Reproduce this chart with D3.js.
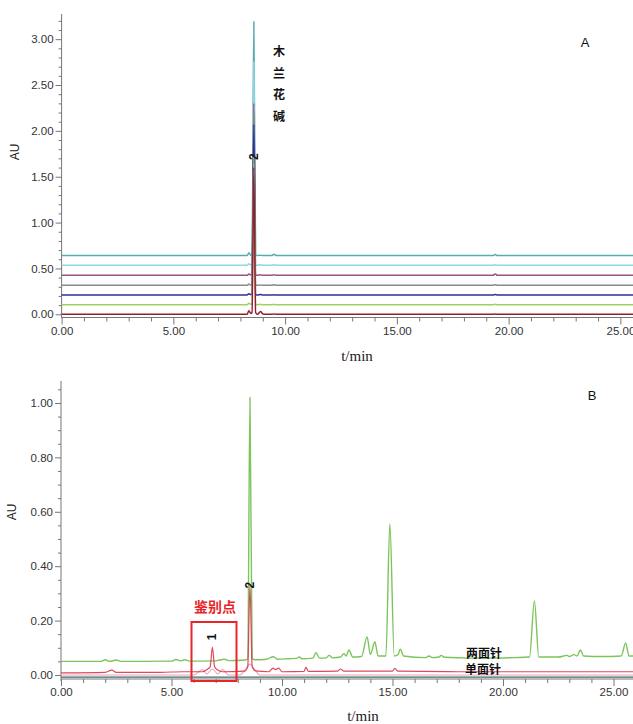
<!DOCTYPE html>
<html><head><meta charset="utf-8">
<script src="https://cdn.jsdelivr.net/npm/d3@7"></script>
<style>
html,body{margin:0;padding:0;background:#fff;}
svg{display:block;}
</style></head>
<body>
<svg id="c" width="633" height="724"></svg>
<script>
// ---------- DATA ----------
// Panel A: shared retention-time grid (min) and absorbance of each of 7 traces
const timesA = [0, 8.3, 8.38, 8.46, 8.52, 8.6, 8.68, 8.76, 8.9, 9.0, 9.1, 9.4, 9.5, 9.6, 19.3, 19.4, 19.5, 25.6];
const seriesA = [
  {name: "s1", color: "#58acae", values: [0.64,0.64,0.67,0.645,0.65,3.19,0.65,0.64,0.645,0.64,0.64,0.64,0.655,0.64,0.64,0.652,0.64,0.64]},
  {name: "s2", color: "#8fd6e6", values: [0.535,0.535,0.55,0.54,0.54,2.75,0.54,0.535,0.54,0.535,0.535,0.535,0.54,0.535,0.535,0.54,0.535,0.535]},
  {name: "s3", color: "#98557f", values: [0.425,0.425,0.44,0.43,0.43,2.3,0.43,0.425,0.43,0.425,0.425,0.425,0.43,0.425,0.425,0.44,0.425,0.425]},
  {name: "s4", color: "#8a8a8a", values: [0.316,0.316,0.33,0.32,0.32,2.2,0.32,0.316,0.32,0.316,0.316,0.316,0.322,0.316,0.316,0.322,0.316,0.316]},
  {name: "s5", color: "#2f2f9c", values: [0.21,0.21,0.225,0.215,0.215,2.07,0.215,0.21,0.215,0.21,0.21,0.21,0.213,0.21,0.21,0.215,0.21,0.21]},
  {name: "s6", color: "#9fd065", values: [0.105,0.105,0.12,0.11,0.11,1.72,0.11,0.105,0.108,0.105,0.105,0.105,0.108,0.105,0.105,0.11,0.105,0.105]},
  {name: "s7", color: "#8e2232", values: [0.0,0.0,0.04,0.01,0.02,1.6,0.02,0.0,0.03,0.005,0.0,0.0,0.004,0.0,0.0,0.003,0.0,0.0]}
];
const yTicksA = [0, 0.5, 1.0, 1.5, 2.0, 2.5, 3.0];
const xTicks = [0, 5, 10, 15, 20, 25];
const compoundA = ["木","兰","花","碱"];

// Panel B traces: [time (min), AU]
const traceLiang = [[0,0.05],[1.8,0.05],[2.0,0.056],[2.2,0.05],[2.5,0.055],[2.7,0.05],[5.0,0.051],[5.2,0.057],[5.4,0.052],[5.6,0.056],[5.8,0.051],[7.0,0.052],[7.4,0.058],[7.6,0.053],[8.35,0.055],[8.45,0.06],[8.55,1.02],[8.65,0.06],[8.8,0.056],[9.3,0.058],[9.6,0.067],[9.8,0.058],[10.3,0.06],[10.65,0.061],[10.78,0.066],[10.9,0.06],[11.4,0.062],[11.54,0.082],[11.7,0.062],[12.0,0.063],[12.13,0.072],[12.3,0.063],[12.65,0.066],[12.8,0.078],[12.9,0.07],[13.03,0.092],[13.2,0.066],[13.6,0.068],[13.85,0.14],[14.0,0.075],[14.2,0.122],[14.35,0.07],[14.7,0.07],[14.88,0.555],[15.08,0.07],[15.25,0.075],[15.35,0.095],[15.5,0.07],[16.5,0.064],[16.65,0.07],[16.8,0.064],[17.1,0.066],[17.2,0.072],[17.35,0.065],[18.5,0.062],[19.5,0.062],[20.5,0.064],[21.2,0.066],[21.42,0.272],[21.62,0.066],[22.5,0.066],[22.9,0.072],[23.0,0.068],[23.2,0.075],[23.35,0.07],[23.5,0.092],[23.65,0.07],[24.5,0.068],[25.35,0.07],[25.55,0.118],[25.7,0.07],[25.9,0.07]];
const traceDan = [[0,0.008],[2.0,0.01],[2.3,0.018],[2.5,0.01],[4.5,0.01],[5.5,0.012],[6.4,0.012],[6.6,0.02],[6.75,0.03],[6.85,0.103],[6.95,0.03],[7.1,0.018],[7.3,0.012],[8.3,0.014],[8.45,0.03],[8.55,0.33],[8.65,0.03],[8.8,0.015],[9.4,0.012],[9.6,0.025],[9.7,0.02],[9.85,0.025],[10.0,0.012],[11.0,0.013],[11.08,0.028],[11.2,0.013],[12.5,0.014],[12.65,0.022],[12.8,0.014],[15.0,0.014],[15.1,0.024],[15.25,0.014],[18,0.012],[25.9,0.012]];
const traceBlank = [[0,0.0],[6.0,0.0],[6.4,0.02],[6.6,0.004],[6.85,0.022],[7.1,0.004],[7.3,0.02],[7.6,0.0],[8.1,0.0],[8.35,0.022],[8.55,0.04],[8.75,0.022],[9.0,0.0],[25.9,0.0]];
const traceBase = [[0,-0.008],[25.9,-0.008]];
const yTicksB = [0, 0.2, 0.4, 0.6, 0.8, 1.0];

// ---------- DRAW ----------
const svg = d3.select("#c");
const font = "'Liberation Sans', Arial, sans-serif";
const axisColor = "#777";

function drawAxes(x, y, yTicks, yMinorStep, yTop, yAxisBottom, xAxisY, xMax, auPos, tminPos) {
  const g = svg.append("g");
  g.append("line").attr("x1", x(0)).attr("x2", x(0)).attr("y1", yTop).attr("y2", yAxisBottom)
    .attr("stroke", axisColor).attr("stroke-width", 1);
  const yMax = y.domain()[1];
  const minors = d3.range(0, yMax + 1e-9, yMinorStep).filter(v => !yTicks.some(t => Math.abs(t - v) < 1e-6));
  const gm = g.append("g").attr("transform", `translate(${x(0)},0)`)
    .call(d3.axisLeft(y).tickValues(minors).tickSize(3).tickFormat(""));
  const gM = g.append("g").attr("transform", `translate(${x(0)},0)`)
    .call(d3.axisLeft(y).tickValues(yTicks).tickSize(6).tickPadding(2).tickFormat(d3.format(".2f")));
  [gm, gM].forEach(s => { s.select(".domain").remove(); s.selectAll("line").attr("stroke", axisColor); });
  gM.selectAll("text").attr("font-family", font).attr("font-size", 11.5).attr("fill", "#333");

  g.append("line").attr("x1", x(0)).attr("x2", 633).attr("y1", xAxisY).attr("y2", xAxisY)
    .attr("stroke", axisColor).attr("stroke-width", 1);
  const xMinors = d3.range(0, xMax + 1e-9, 1).filter(v => v % 5 !== 0);
  const gxm = g.append("g").attr("transform", `translate(0,${xAxisY})`)
    .call(d3.axisBottom(x).tickValues(xMinors).tickSize(4).tickFormat(""));
  const gxM = g.append("g").attr("transform", `translate(0,${xAxisY})`)
    .call(d3.axisBottom(x).tickValues(xTicks).tickSize(7).tickPadding(2).tickFormat(d3.format(".2f")));
  [gxm, gxM].forEach(s => { s.select(".domain").remove(); s.selectAll("line").attr("stroke", axisColor); });
  gxM.selectAll("text").attr("font-family", font).attr("font-size", 11.5).attr("fill", "#333");

  svg.append("text").attr("transform", `translate(${auPos[0]},${auPos[1]}) rotate(-90)`)
    .attr("text-anchor", "middle").attr("font-family", font).attr("font-size", 12).attr("fill", "#222").text("AU");
  svg.append("text").attr("x", tminPos[0]).attr("y", tminPos[1]).attr("text-anchor", "middle")
    .attr("font-family", "'Liberation Serif', 'Times New Roman', serif").attr("font-size", 15).attr("fill", "#222").text("t/min");
}

// ---- Panel A ----
const xA = d3.scaleLinear().domain([0, 25.6]).range([61.6, 633.8]);
const yA = d3.scaleLinear().domain([0, 3.27]).range([314.3, 14.4]);
drawAxes(xA, yA, yTicksA, 0.1, 14, 318, 317.5, 25.6, [19, 152], [357, 361]);

const lineA = d3.line().x(d => xA(d[0])).y(d => yA(d[1])).curve(d3.curveMonotoneX);
seriesA.forEach(s => {
  const pts = timesA.map((t, i) => [t, s.values[i]]);
  svg.append("path").datum(pts).attr("d", lineA).attr("fill", "none")
    .attr("stroke", s.color).attr("stroke-width", 1.5);
});
svg.append("text").attr("transform", `translate(${xA(8.6) + 4},${yA(1.72)}) rotate(-90)`)
  .attr("text-anchor", "middle").attr("font-family", font).attr("font-size", 12).attr("font-weight", "bold").attr("fill", "#111").text("2");
compoundA.forEach((c, i) => {
  svg.append("text").attr("x", 279).attr("y", 56 + i * 21.7).attr("text-anchor", "middle")
    .attr("font-family", "'Noto Sans CJK SC', sans-serif").attr("font-size", 12).attr("font-weight", "bold").attr("fill", "#111").text(c);
});
svg.append("text").attr("x", 585).attr("y", 47).attr("text-anchor", "middle")
  .attr("font-family", font).attr("font-size", 13).attr("fill", "#111").text("A");

// ---- Panel B ----
const xB = d3.scaleLinear().domain([0, 25.9]).range([61, 633.4]);
const yB = d3.scaleLinear().domain([0, 1.08]).range([675, 381.2]);
drawAxes(xB, yB, yTicksB, 0.05, 381, 681, 679, 25.9, [16, 512], [363, 721]);

const lineB = d3.line().x(d => xB(d[0])).y(d => yB(d[1])).curve(d3.curveMonotoneX);
svg.append("path").datum(traceBase).attr("d", lineB).attr("fill", "none").attr("stroke", "#3d6b6b").attr("stroke-width", 1.2);
svg.append("path").datum(traceBlank).attr("d", lineB).attr("fill", "none").attr("stroke", "#ee9fb6").attr("stroke-width", 1.1);
svg.append("path").datum(traceLiang).attr("d", lineB).attr("fill", "none").attr("stroke", "#7dc45c").attr("stroke-width", 1.4);
svg.append("path").datum(traceDan).attr("d", lineB).attr("fill", "none").attr("stroke", "#d8344e").attr("stroke-width", 1.2).attr("stroke-opacity", 0.9);

svg.append("text").attr("transform", `translate(${xB(8.55) + 4},${yB(0.33)}) rotate(-90)`)
  .attr("text-anchor", "middle").attr("font-family", font).attr("font-size", 12).attr("font-weight", "bold").attr("fill", "#111").text("2");
svg.append("text").attr("transform", `translate(${xB(6.85) + 4},${yB(0.14)}) rotate(-90)`)
  .attr("text-anchor", "middle").attr("font-family", font).attr("font-size", 12).attr("font-weight", "bold").attr("fill", "#111").text("1");

svg.append("rect").attr("x", 191.5).attr("y", 622).attr("width", 45).attr("height", 59)
  .attr("fill", "none").attr("stroke", "#e8262a").attr("stroke-width", 2);
svg.append("text").attr("x", 215).attr("y", 612).attr("text-anchor", "middle")
  .attr("font-family", "'Noto Sans CJK SC', sans-serif").attr("font-size", 14).attr("font-weight", "bold").attr("fill", "#e8262a").text("鉴别点");

svg.append("text").attr("x", 466).attr("y", 658).attr("font-family", "'Noto Sans CJK SC', sans-serif")
  .attr("font-size", 12).attr("font-weight", "bold").attr("fill", "#111").text("两面针");
svg.append("text").attr("x", 465).attr("y", 674).attr("font-family", "'Noto Sans CJK SC', sans-serif")
  .attr("font-size", 12).attr("font-weight", "bold").attr("fill", "#111").text("单面针");
svg.append("text").attr("x", 592).attr("y", 400).attr("text-anchor", "middle")
  .attr("font-family", font).attr("font-size", 13).attr("fill", "#111").text("B");
</script>
</body></html>
